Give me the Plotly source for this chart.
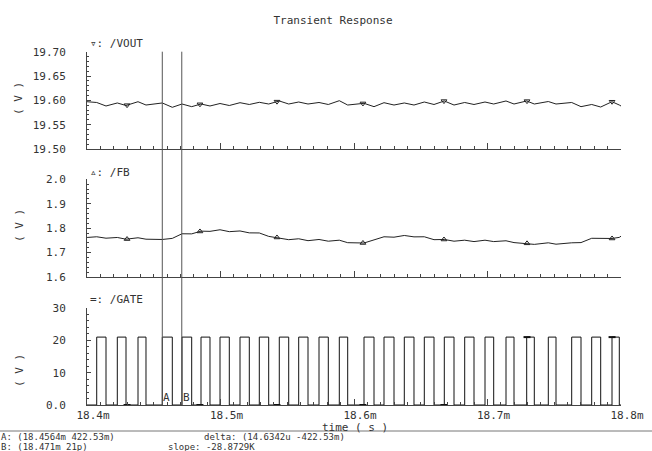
import numpy as np
import plotly.graph_objects as go

# ---- data (time in ms) -------------------------------------------------
x_ticks = [18.4, 18.5, 18.6, 18.7, 18.8]
x_ticktext = ["18.4m", "18.5m", "18.6m", "18.7m", "18.8m"]

vout_ticks = [19.50, 19.55, 19.60, 19.65, 19.70]
vout_ticktext = ["19.50", "19.55", "19.60", "19.65", "19.70"]
fb_ticks = [1.6, 1.7, 1.8, 1.9, 2.0]
fb_ticktext = ["1.6", "1.7", "1.8", "1.9", "2.0"]
gate_ticks = [0, 10, 20, 30]
gate_ticktext = ["0.0", "10", "20", "30"]

# switching edges of the gate drive
gate_rise = [18.40727, 18.42270, 18.43820, 18.45640, 18.47116, 18.48539,
             18.49963, 18.51461, 18.52906, 18.54404, 18.55858, 18.57378,
             18.58899, 18.60749, 18.62247, 18.63768, 18.65266, 18.66764,
             18.68292, 18.69813, 18.71386, 18.72936, 18.74554, 18.76307,
             18.77805, 18.79326]
gate_fall = [18.41423, 18.42921, 18.44419, 18.46390, 18.47843, 18.49213,
             18.50659, 18.52157, 18.53610, 18.55109, 18.56554, 18.58075,
             18.59528, 18.61498, 18.62996, 18.64494, 18.65993, 18.67491,
             18.68989, 18.70464, 18.71985, 18.73506, 18.75131, 18.77004,
             18.78479, 18.79873]
gate_high = 21.0
gate_low = 0.0

# output voltage at each rising / falling gate edge
vout_at_rise = [19.5956, 19.5946, 19.5972, 19.5946, 19.5925, 19.5925,
                19.5935, 19.5952, 19.5960, 19.5987, 19.5966, 19.5956,
                19.5993, 19.5939, 19.5952, 19.5946, 19.5966, 19.5987,
                19.5956, 19.5966, 19.5987, 19.5987, 19.5976, 19.5956,
                19.5915, 19.5972]
vout_at_fall = [19.5884, 19.5894, 19.5904, 19.5857, 19.5870, 19.5884,
                19.5894, 19.5915, 19.5925, 19.5925, 19.5925, 19.5915,
                19.5904, 19.5870, 19.5904, 19.5904, 19.5915, 19.5904,
                19.5915, 19.5925, 19.5925, 19.5925, 19.5925, 19.5870,
                19.5863, 19.5904]
vout_start, vout_end = 19.5972, 19.5884

# feedback node voltage at each rising / falling gate edge
fb_at_rise = [1.7647, 1.7618, 1.7606, 1.7536, 1.7770, 1.7877, 1.7934,
              1.7885, 1.7803, 1.7606, 1.7565, 1.7536, 1.7507, 1.7392,
              1.7647, 1.7700, 1.7647, 1.7536, 1.7507, 1.7507, 1.7483,
              1.7380, 1.7400, 1.7400, 1.7585, 1.7577]
fb_at_fall = [1.7589, 1.7548, 1.7548, 1.7581, 1.7766, 1.7869, 1.7856,
              1.7807, 1.7663, 1.7528, 1.7487, 1.7466, 1.7405, 1.7520,
              1.7630, 1.7643, 1.7528, 1.7466, 1.7450, 1.7450, 1.7409,
              1.7335, 1.7343, 1.7409, 1.7569, 1.7622]
fb_start, fb_end = 1.7618, 1.7671

# waveform marker positions
marker_t = [18.4300, 18.4846, 18.5423, 18.6067, 18.6674, 18.7296, 18.7933]

# cursors
cursor_a = 18.4564
cursor_b = 18.471

t0, t1 = 18.4, 18.8

# ---- build waveforms ---------------------------------------------------
edges_t = np.ravel(np.column_stack([gate_rise, gate_fall]))
t_wave = np.concatenate([[t0], edges_t, [t1]])
vout = np.concatenate([[vout_start],
                       np.ravel(np.column_stack([vout_at_rise, vout_at_fall])),
                       [vout_end]])
fb = np.concatenate([[fb_start],
                     np.ravel(np.column_stack([fb_at_rise, fb_at_fall])),
                     [fb_end]])

gx, gy = [t0], [gate_low]
for r, f in zip(gate_rise, gate_fall):
    gx += [r, r, f, f]
    gy += [gate_low, gate_high, gate_high, gate_low]
gx.append(t1)
gy.append(gate_low)


def gate_level(t):
    return gate_high if any(r <= t < f for r, f in zip(gate_rise, gate_fall)) else gate_low


vout_m = np.interp(marker_t, t_wave, vout)
fb_m = np.interp(marker_t, t_wave, fb)
gate_m = [gate_level(t) for t in marker_t]

# ---- layout geometry ---------------------------------------------------
W, H = 652, 451
FONT = "DejaVu Sans Mono"
INK = "#333333"
AX = "#444444"


def py(p):
    return 1 - p / H


xdom = [87 / W, 621 / W]
doms = [[py(149), py(51.7)], [py(277), py(179.3)], [py(405), py(308)]]

fig = go.Figure()
line_style = dict(color="#222222", width=1)
fig.add_trace(go.Scatter(x=t_wave, y=vout, mode="lines", line=line_style,
                         xaxis="x", yaxis="y", showlegend=False))
fig.add_trace(go.Scatter(x=marker_t, y=vout_m, mode="markers",
                         marker=dict(symbol="triangle-down-open", size=5,
                                     color="#222222", line=dict(width=1)),
                         xaxis="x", yaxis="y", showlegend=False))
fig.add_trace(go.Scatter(x=t_wave, y=fb, mode="lines", line=line_style,
                         xaxis="x2", yaxis="y2", showlegend=False))
fig.add_trace(go.Scatter(x=marker_t, y=fb_m, mode="markers",
                         marker=dict(symbol="triangle-up-open", size=5,
                                     color="#222222", line=dict(width=1)),
                         xaxis="x2", yaxis="y2", showlegend=False))
fig.add_trace(go.Scatter(x=gx, y=gy, mode="lines", line=dict(color="#111111", width=1),
                         xaxis="x3", yaxis="y3", showlegend=False))
fig.add_trace(go.Scatter(x=marker_t, y=gate_m, mode="markers",
                         marker=dict(symbol="line-ew", size=5, color="#111111",
                                     line=dict(width=2, color="#111111")),
                         cliponaxis=False,
                         xaxis="x3", yaxis="y3", showlegend=False))

tickfont = dict(family=FONT, size=11, color=INK)


def xaxis(anchor, labels):
    d = dict(domain=xdom, range=[t0, t1], anchor=anchor, automargin=False,
             showline=True, linecolor=AX, linewidth=1, showgrid=False,
             zeroline=False, ticks="inside", ticklen=6, tickcolor=AX,
             tickvals=x_ticks, ticktext=x_ticktext,
             minor=dict(tickmode="linear", tick0=t0, dtick=0.01,
                        ticks="inside", ticklen=3, tickcolor=AX),
             showticklabels=labels, tickfont=tickfont)
    return d


def yaxis(anchor, dom, rng, vals, text, mdt):
    return dict(domain=dom, range=rng, anchor=anchor, automargin=False,
                showline=True, linecolor=AX, linewidth=1, showgrid=False,
                zeroline=False, ticks="inside", ticklen=4, tickcolor=AX,
                tickvals=vals, ticktext=text,
                minor=dict(tickmode="linear", tick0=rng[0], dtick=mdt,
                           ticks="inside", ticklen=2, tickcolor=AX),
                tickfont=tickfont, ticklabelstandoff=18)


x3 = xaxis("y3", True)
x3.update(ticklabelshift=6, ticklabelstandoff=0)

fig.update_layout(
    width=W, height=H,
    margin=dict(l=0, r=0, t=0, b=0),
    paper_bgcolor="white", plot_bgcolor="white",
    xaxis=xaxis("y", False),
    xaxis2=xaxis("y2", False),
    xaxis3=x3,
    yaxis=yaxis("x", doms[0], [19.50, 19.70], vout_ticks, vout_ticktext, 0.01),
    yaxis2=yaxis("x2", doms[1], [1.6, 2.0], fb_ticks, fb_ticktext, 0.02),
    yaxis3=yaxis("x3", doms[2], [0, 30], gate_ticks, gate_ticktext, 2),
    title=dict(text="Transient Response", x=333 / W, xanchor="center",
               y=py(20), yanchor="middle", yref="paper",
               font=dict(family=FONT, size=11, color=INK)),
)

# cursor lines spanning all three panels
for c in (cursor_a, cursor_b):
    fig.add_shape(type="line", xref="x3", yref="paper", x0=c, x1=c,
                  y0=py(405), y1=py(51.7), line=dict(color="#555555", width=1))

# separator above the cursor readout
fig.add_shape(type="line", xref="paper", yref="paper", x0=0, x1=1,
              y0=py(431), y1=py(431), line=dict(color="#777777", width=1))


def note(text, x, y, size=11, **kw):
    fig.add_annotation(text=text, xref="paper", yref="paper", x=x / W, y=py(y),
                       xanchor="left", yanchor="middle", showarrow=False,
                       borderpad=0,
                       font=dict(family=FONT, size=size, color=INK), **kw)


note("\u25bf: /VOUT", 89, 43)
note("\u25b5: /FB", 89, 172)
note("=: /GATE", 89, 299)
note("time ( s )", 321, 427)

# vertical axis units
for yc in (99, 226, 371):
    fig.add_annotation(text="( V )", xref="paper", yref="paper", x=19 / W, y=py(yc),
                       xanchor="center", yanchor="middle", textangle=-90,
                       showarrow=False, font=dict(family=FONT, size=11, color=INK))

# cursor readout
note("A: (18.4564m 422.53m)", 0, 437, size=9)
note("delta: (14.6342u -422.53m)", 203, 437, size=9)
note("B: (18.471m 21p)", 0, 446.5, size=9)
note("slope: -28.8729K", 167, 446.5, size=9)

for name, c in (("A", cursor_a), ("B", cursor_b)):
    fig.add_annotation(text=name, xref="x3", yref="y3", x=c, y=0,
                       xanchor="left", yanchor="bottom", borderpad=0,
                       showarrow=False, font=dict(family=FONT, size=11, color=INK))

fig.write_html("out.html")
